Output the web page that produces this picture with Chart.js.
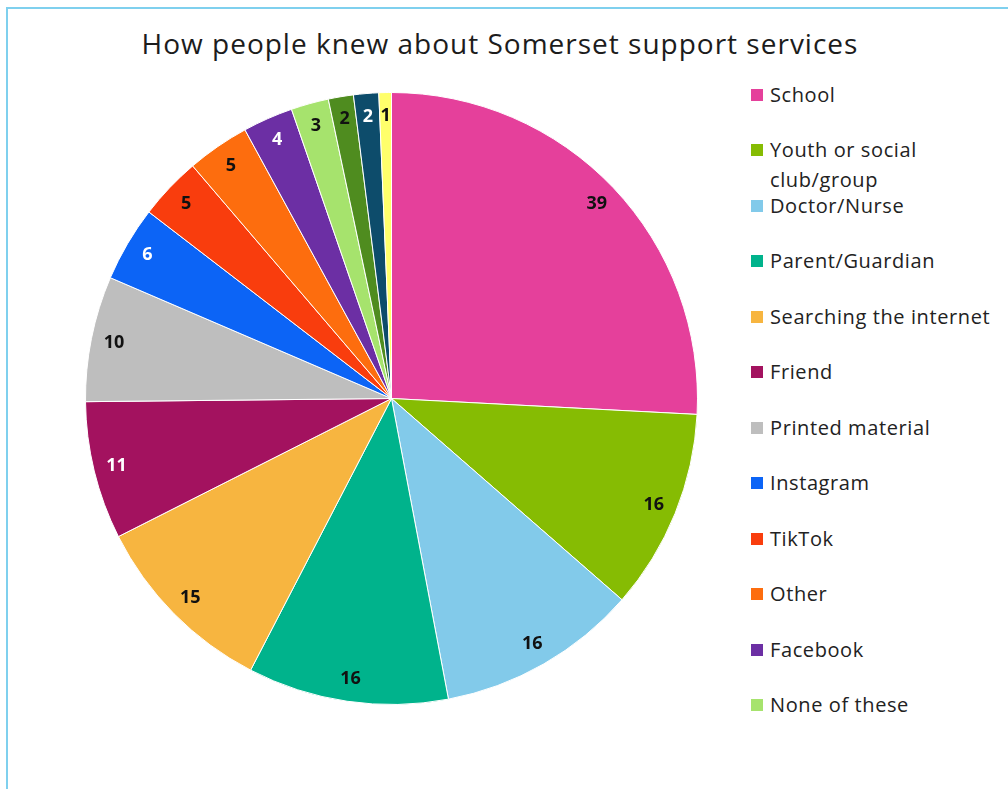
<!DOCTYPE html>
<html>
<head>
<meta charset="utf-8">
<script src="https://cdn.jsdelivr.net/npm/chart.js@4.4.1/dist/chart.umd.min.js"></script>
<style>
  html, body { margin: 0; padding: 0; background: #fff; overflow: hidden; width: 1008px; height: 789px; }
  .card { position: absolute; left: 6px; top: 7px; width: 1200px; height: 1000px; border-top: 2px solid #7fd0ee; border-left: 2px solid #7fd0ee; }
  .title { position: absolute; left: 0; width: 1000px; top: 24px; text-align: center; font-family: "Open Sans", sans-serif; font-size: 28px; letter-spacing: 1px; color: #1c1c1c; line-height: 38px; }
  .pie { position: absolute; left: 85px; top: 92px; width: 613px; height: 613px; }
  .legend { position: absolute; left: 751px; top: 80px; margin: 0; padding: 0; list-style: none; font-family: "Open Sans", sans-serif; font-size: 20px; letter-spacing: 0.6px; color: #222; }
  .legend li { position: absolute; left: 0; width: 260px; height: 30px; line-height: 30px; }
  .legend .box { position: absolute; left: 0; top: 9px; width: 12px; height: 12px; }
  .legend .txt { position: absolute; left: 19px; top: 0; width: 234px; white-space: normal; }
</style>
</head>
<body>
<div class="card"></div>
<div class="title">How people knew about Somerset support services</div>
<div class="pie"><canvas id="chart"></canvas></div>
<ul class="legend" id="legend"></ul>
<script>
const categories = [
  'School', 'Youth or social club/group', 'Doctor/Nurse', 'Parent/Guardian',
  'Searching the internet', 'Friend', 'Printed material', 'Instagram',
  'TikTok', 'Other', 'Facebook', 'None of these',
  'Additional source 1', 'Additional source 2', 'Additional source 3'
];
const counts = [39, 16, 16, 16, 15, 11, 10, 6, 5, 5, 4, 3, 2, 2, 1];
const sliceColors = [
  '#e5409b', '#86bc03', '#82caea', '#00b38c', '#f7b540', '#a3125f',
  '#bebebe', '#0c64f6', '#f93d0d', '#fd6d0e', '#6c2fa4', '#a6e36d',
  '#4f8c1f', '#0d4c6b', '#ffff6b'
];
const labelColors = [
  '#111', '#111', '#111', '#111', '#111', '#fff', '#111', '#fff',
  '#111', '#111', '#fff', '#111', '#111', '#fff', '#111'
];
const legendCount = 12;

// Value labels placed near the rim of each slice
const sliceValues = {
  id: 'sliceValues',
  afterDatasetsDraw(chart) {
    const ctx = chart.ctx;
    const meta = chart.getDatasetMeta(0);
    ctx.save();
    ctx.font = 'bold 18px "Open Sans", sans-serif';
    ctx.textAlign = 'center';
    ctx.textBaseline = 'middle';
    meta.data.forEach((arc, i) => {
      const p = arc.getProps(['x', 'y', 'startAngle', 'endAngle', 'outerRadius'], true);
      const mid = (p.startAngle + p.endAngle) / 2;
      const r = p.outerRadius * 0.925;
      ctx.fillStyle = labelColors[i];
      ctx.fillText(String(chart.data.datasets[0].data[i]), p.x + Math.cos(mid) * r, p.y + Math.sin(mid) * r);
    });
    ctx.restore();
  }
};

// Legend list built from the chart's own legend items
const htmlLegend = {
  id: 'htmlLegend',
  afterUpdate(chart) {
    const ul = document.getElementById('legend');
    ul.innerHTML = '';
    const items = Chart.overrides.pie.plugins.legend.labels.generateLabels(chart).slice(0, legendCount);
    items.forEach((item, i) => {
      const li = document.createElement('li');
      li.style.top = (i * 55.45) + 'px';
      const box = document.createElement('span');
      box.className = 'box';
      box.style.background = item.fillStyle;
      const txt = document.createElement('span');
      txt.className = 'txt';
      txt.textContent = item.text;
      li.appendChild(box);
      li.appendChild(txt);
      ul.appendChild(li);
    });
  }
};

new Chart(document.getElementById('chart'), {
  type: 'pie',
  data: {
    labels: categories,
    datasets: [{
      data: counts,
      backgroundColor: sliceColors,
      borderColor: '#ffffff',
      borderWidth: 1
    }]
  },
  options: {
    responsive: true,
    maintainAspectRatio: false,
    animation: false,
    layout: { padding: 0 },
    plugins: {
      legend: { display: false },
      title: { display: false },
      tooltip: { enabled: false }
    }
  },
  plugins: [sliceValues, htmlLegend]
});
</script>
</body>
</html>
